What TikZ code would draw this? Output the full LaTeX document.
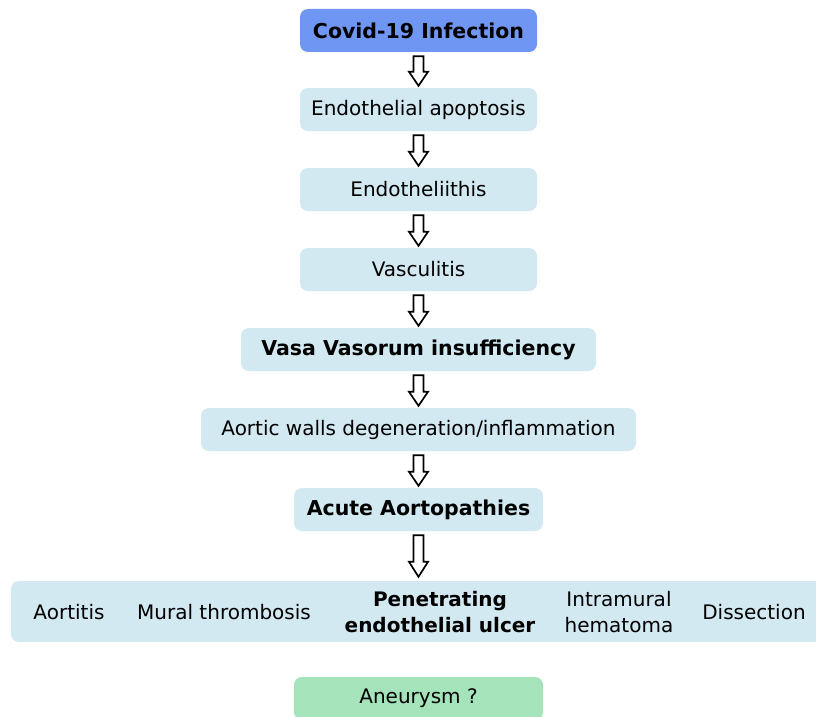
\documentclass[tikz,border=0pt]{standalone}
\usepackage{fontspec}
\setmainfont{DejaVu Sans}
\usetikzlibrary{calc}
\definecolor{topblue}{RGB}{112,150,243}
\definecolor{lightbox}{RGB}{210,233,241}
\definecolor{greenbox}{RGB}{165,227,187}
\tikzset{
  x=1pt, y=1pt,
  box/.style={fill=lightbox, rounded corners=8pt, inner sep=0pt, minimum height=43pt,
    font=\fontsize{20}{25}\selectfont, text=black},
  boldbox/.style={box, font=\fontsize{20.5}{25}\selectfont\bfseries},
  itemtext/.style={inner sep=0pt, align=center, font=\fontsize{20}{25.5}\selectfont, text=black},
  hollow/.style={draw=black, line width=1.7pt, fill=white, line join=miter},
}
\newcommand\harrow[4]{% from node #1 to node #2, head length #3, end gap #4
  \draw[hollow] let \p1=($(#1.south)+(0,-4)$), \p2=($(#2.north)+(0,#4)$) in
    (\x1-5pt,\y1) -- (\x1+5pt,\y1) -- (\x1+5pt,\y2+#3) -- (\x1+9.5pt,\y2+#3) --
    (\x1,\y2) -- (\x1-9.5pt,\y2+#3) -- (\x1-5pt,\y2+#3) -- cycle;
}
\begin{document}
\begin{tikzpicture}
\useasboundingbox (0,0) rectangle (816,-717);
\clip (0,0) rectangle (816,-717);
\fill[white] (0,0) rectangle (816,-717);

\node[boldbox, fill=topblue, minimum width=237pt] (covid) at (418.5,-30.5) {Covid-19 Infection};
\node[box, minimum width=237pt] (apop) at (418.5,-109.5) {Endothelial apoptosis};
\node[box, minimum width=237pt] (endo) at (418.5,-189.5) {Endotheliithis};
\node[box, minimum width=237pt] (vasc) at (418.5,-269.5) {Vasculitis};
\node[boldbox, minimum width=355pt] (vasa) at (418.5,-349.5) {Vasa Vasorum insufficiency};
\node[box, minimum width=435pt] (aortic) at (418.5,-429.5) {Aortic walls degeneration/inflammation};
\node[boldbox, minimum width=249pt] (acute) at (418.5,-509.5) {Acute Aortopathies};

\node[box, minimum width=815pt, minimum height=61pt] (big) at (418.5,-611.5) {};
\node[itemtext] (aortitis) at (69,-612) {Aortitis};
\node[itemtext] (mural) at (224,-612) {Mural thrombosis};
\node[itemtext, font=\fontsize{20}{25.5}\selectfont\bfseries] (pen) at (440,-612) {Penetrating\\endothelial ulcer};
\node[itemtext] (intra) at (619,-612) {Intramural\\hematoma};
\node[itemtext] (diss) at (754,-612) {Dissection};

\node[box, fill=greenbox, minimum width=249pt] (aneur) at (418.5,-698.5) {Aneurysm ?};

\harrow{covid}{apop}{14}{2}
\harrow{apop}{endo}{14}{2}
\harrow{endo}{vasc}{14}{2}
\harrow{vasc}{vasa}{14}{2}
\harrow{vasa}{aortic}{14}{2}
\harrow{aortic}{acute}{14}{2}
\harrow{acute}{big}{15}{4}
\end{tikzpicture}
\end{document}
